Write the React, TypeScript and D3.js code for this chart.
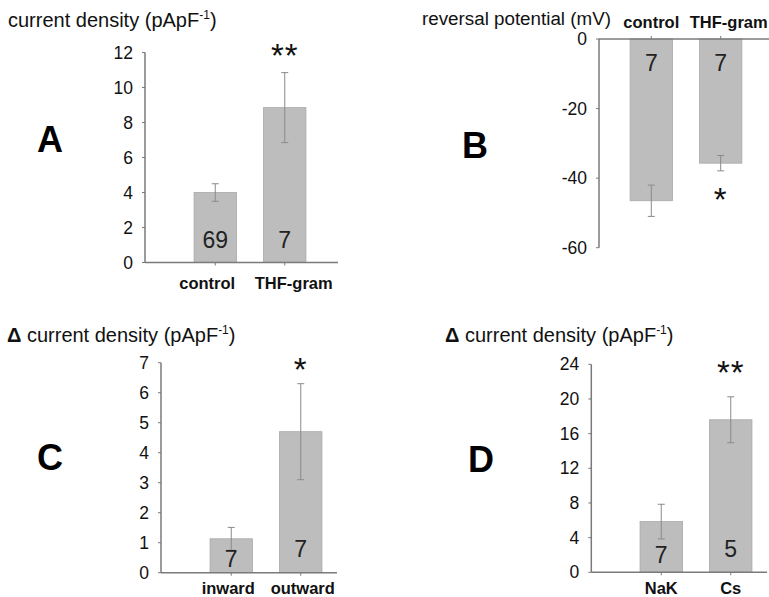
import React from "react";
import * as d3 from "d3";

// ---------- data ----------
const catsA = ["control", "THF-gram"];
const valsA = [4.0, 8.85];
const errA = [0.5, 2.0];
const nA = ["69", "7"];
const ticksA = [0, 2, 4, 6, 8, 10, 12];

const catsB = ["control", "THF-gram"];
const valsB = [-46.5, -35.7];
const errB = [4.5, 2.2];
const nB = ["7", "7"];
const ticksB = [0, -20, -40, -60];

const catsC = ["inward", "outward"];
const valsC = [1.13, 4.7];
const errC = [0.38, 1.6];
const nC = ["7", "7"];
const ticksC = [0, 1, 2, 3, 4, 5, 6, 7];

const catsD = ["NaK", "Cs"];
const valsD = [5.85, 17.6];
const errD = [2.0, 2.65];
const nD = ["7", "5"];
const ticksD = [0, 4, 8, 12, 16, 20, 24];

const sigA = ["", "**"];
const sigB = ["", "*"];
const sigC = ["", "*"];
const sigD = ["", "**"];

// ---------- layout ----------
const FONT = "'Liberation Sans', Arial, sans-serif";
const BAR_FILL = "#bdbdbd";
const BAR_STROKE = "#a8a8a8";
const AXIS = "#7a7a7a";
const ERR = "#8a8a8a";

type Panel = {
  letter: string;
  letterX: number;
  letterY: number;
  title: string;
  titleSize: number;
  delta: boolean;
  titleX: number;
  titleY: number;
  cats: string[];
  vals: number[];
  errs: number[];
  ns: string[];
  nOffsets: number[];
  sig: string[];
  sigY: number;
  ticks: number[];
  domain: [number, number];
  range: [number, number];
  axisX: number;
  axisEnd: number;
  x0: number;
  x1: number;
  labelY: number;
  labelDx: number[];
  inverted: boolean;
};

const panels: Panel[] = [
  {
    letter: "A", letterX: 50, letterY: 152,
    title: "current density (pApF", titleSize: 20, delta: false, titleX: 8, titleY: 27,
    cats: catsA, vals: valsA, errs: errA, ns: nA, nOffsets: [14.5, 14.5],
    sig: sigA, sigY: 67,
    ticks: ticksA, domain: [0, 12], range: [262.5, 52.5],
    axisX: 145, axisEnd: 338, x0: 180.5, x1: 319.5, labelY: 289, labelDx: [-8, 9],
    inverted: false,
  },
  {
    letter: "B", letterX: 475, letterY: 158,
    title: "reversal potential (mV)", titleSize: 18.8, delta: false, titleX: 422, titleY: 25,
    cats: catsB, vals: valsB, errs: errB, ns: nB, nOffsets: [-32, -32],
    sig: sigB, sigY: 211,
    ticks: ticksB, domain: [0, -60], range: [39, 247.7],
    axisX: 599, axisEnd: 769, x0: 616.6, x1: 755.4, labelY: 28, labelDx: [0, 8],
    inverted: true,
  },
  {
    letter: "C", letterX: 50, letterY: 470,
    title: " current density (pApF", titleSize: 20, delta: true, titleX: 7, titleY: 342,
    cats: catsC, vals: valsC, errs: errC, ns: nC, nOffsets: [5.7, 15.7],
    sig: sigC, sigY: 381,
    ticks: ticksC, domain: [0, 7], range: [572.7, 362.7],
    axisX: 161, axisEnd: 337, x0: 196.5, x1: 335.5, labelY: 594, labelDx: [-3, 2],
    inverted: false,
  },
  {
    letter: "D", letterX: 481, letterY: 472,
    title: " current density (pApF", titleSize: 20, delta: true, titleX: 445, titleY: 342,
    cats: catsD, vals: valsD, errs: errD, ns: nD, nOffsets: [9.3, 15.6],
    sig: sigD, sigY: 384,
    ticks: ticksD, domain: [0, 24], range: [572.3, 364.3],
    axisX: 591.3, axisEnd: 767, x0: 626.5, x1: 765.5, labelY: 594, labelDx: [0, 0],
    inverted: false,
  },
];

function PanelView({ p }: { p: Panel }) {
  const y = d3.scaleLinear().domain(p.domain).range(p.range);
  const x = d3.scaleBand().domain(p.cats).range([p.x0, p.x1]).paddingInner(0.39).paddingOuter(0.195);
  const bw = x.bandwidth();
  const base = y(0);
  const yTop = Math.min(...p.range);
  const yBot = Math.max(...p.range);
  return (
    <g>
      <text x={p.letterX} y={p.letterY} textAnchor="middle" fontFamily={FONT} fontWeight="bold" fontSize={36} fill="#000">
        {p.letter}
      </text>
      <text x={p.titleX} y={p.titleY} fontFamily={FONT} fontSize={p.titleSize} fill="#111">
        {p.delta ? <tspan fontWeight="bold">Δ</tspan> : null}
        <tspan>{p.title}</tspan>
        {p.title.includes("pApF") ? (
          <>
            <tspan fontSize={12} dy={-8}>-1</tspan>
            <tspan dy={8}>)</tspan>
          </>
        ) : null}
      </text>
      {p.cats.map((c, i) => {
        const v = p.vals[i];
        const yv = y(v);
        const bx = x(c)!;
        return (
          <rect key={c} x={bx} y={Math.min(yv, base)} width={bw} height={Math.abs(yv - base)} fill={BAR_FILL} stroke={BAR_STROKE} strokeWidth={0.8} />
        );
      })}
      {p.cats.map((c, i) => {
        const cx = x(c)! + bw / 2;
        const y1 = y(p.vals[i] + p.errs[i]);
        const y2 = y(p.vals[i] - p.errs[i]);
        return (
          <g key={c + "e"} stroke={ERR} strokeWidth={1}>
            <line x1={cx} x2={cx} y1={y1} y2={y2} />
            <line x1={cx - 3.5} x2={cx + 3.5} y1={y1} y2={y1} />
            <line x1={cx - 3.5} x2={cx + 3.5} y1={y2} y2={y2} />
          </g>
        );
      })}
      {p.cats.map((c, i) => (
        <text key={c + "n"} x={x(c)! + bw / 2} y={base - p.nOffsets[i]} textAnchor="middle" fontFamily={FONT} fontSize={23} fill="#222">
          {p.ns[i]}
        </text>
      ))}
      {p.cats.map((c, i) => (
        <text key={c + "s"} x={x(c)! + bw / 2} y={p.sigY} textAnchor="middle" fontFamily={FONT} fontSize={33} fill="#111" letterSpacing={1}>
          {p.sig[i]}
        </text>
      ))}
      <line x1={p.axisX} x2={p.axisX} y1={yTop} y2={yBot} stroke={AXIS} strokeWidth={1.5} />
      <line x1={p.axisX} x2={p.axisEnd} y1={base} y2={base} stroke={AXIS} strokeWidth={1.5} />
      {p.ticks.map((t) => (
        <g key={"t" + t}>
          <line x1={p.axisX - 3} x2={p.axisX} y1={y(t)} y2={y(t)} stroke={AXIS} strokeWidth={1} />
          <text x={p.axisX - 12} y={y(t) + 6} textAnchor="end" fontFamily={FONT} fontSize={17.5} fill="#111">
            {t}
          </text>
        </g>
      ))}
      {p.cats.map((c) => (
        <line key={c + "xt"} x1={x(c)! + bw / 2} x2={x(c)! + bw / 2} y1={base} y2={base + (p.inverted ? -3 : 3)} stroke={AXIS} strokeWidth={1} />
      ))}
      {p.cats.map((c, i) => (
        <text key={c + "l"} x={x(c)! + bw / 2 + p.labelDx[i]} y={p.labelY} textAnchor="middle" fontFamily={FONT} fontWeight="bold" fontSize={16.5} fill="#111">
          {c}
        </text>
      ))}
    </g>
  );
}

export default function App() {
  return (
    <svg width={769} height={597} style={{ position: "absolute", left: 0, top: 0, background: "#fff" }}>
      <rect x={0} y={0} width={769} height={597} fill="#fff" />
      {panels.map((p) => (
        <PanelView key={p.letter} p={p} />
      ))}
    </svg>
  );
}
